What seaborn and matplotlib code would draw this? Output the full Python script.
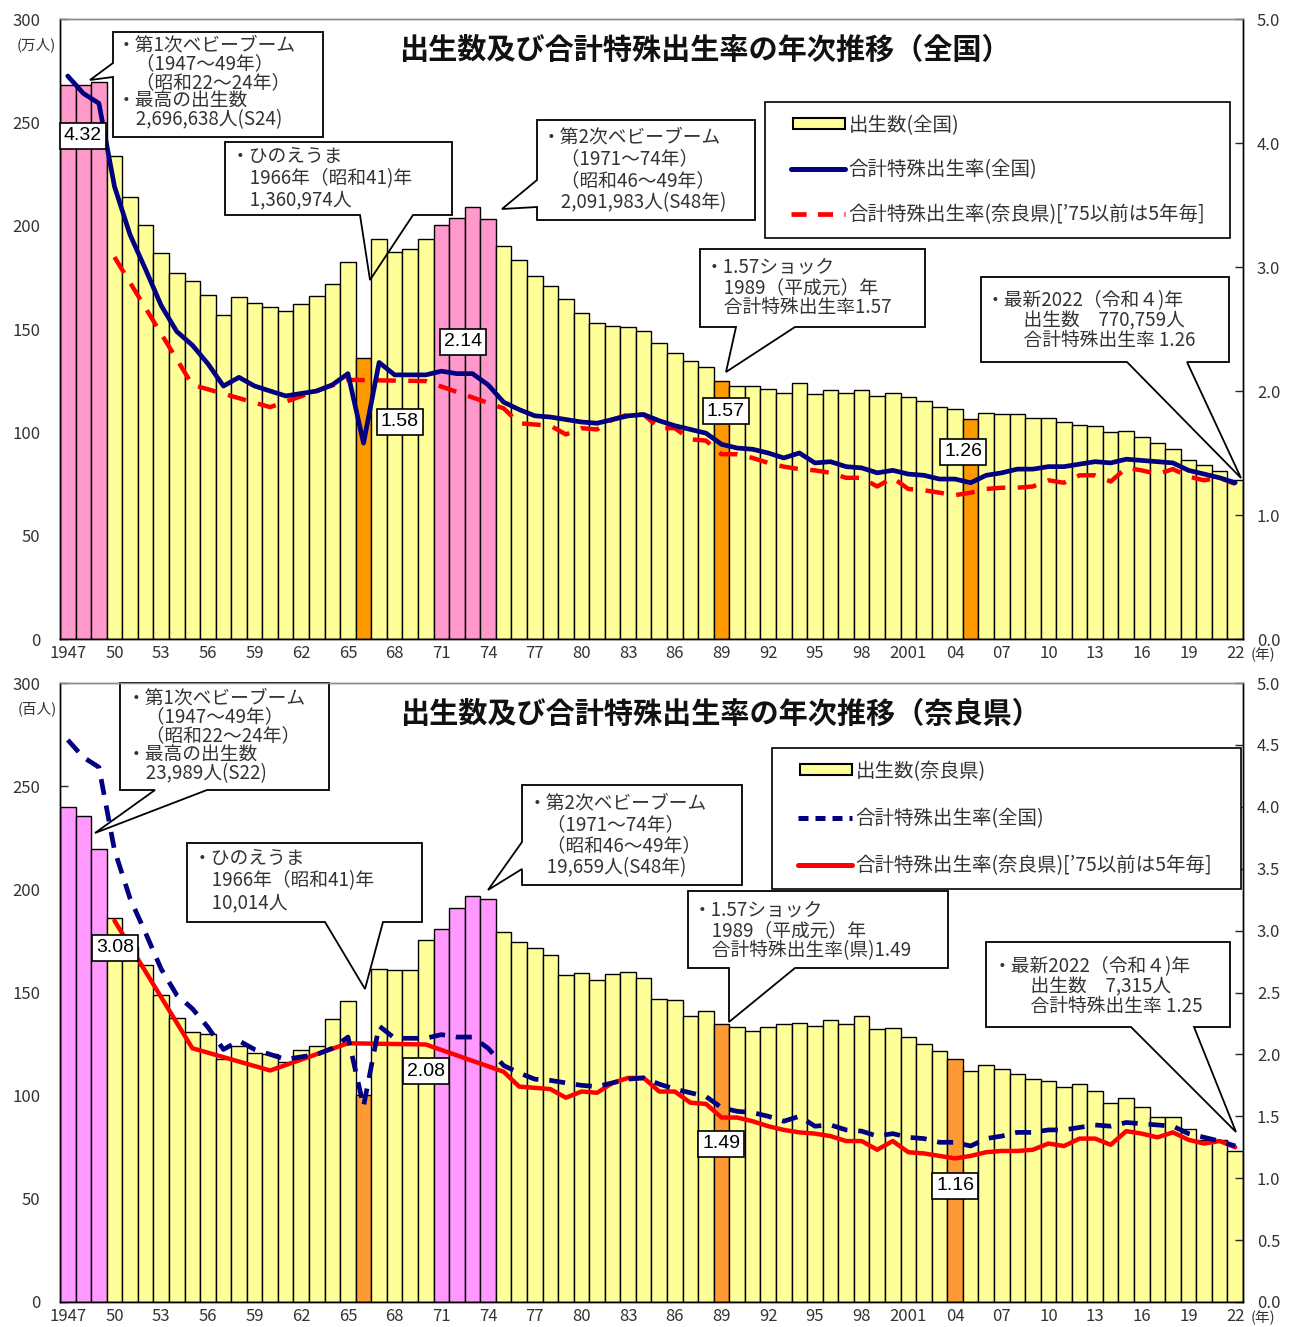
import numpy as np
import pandas as pd
import matplotlib
matplotlib.use("Agg")
import matplotlib.pyplot as plt
import matplotlib.transforms as mtransforms
from matplotlib.patches import Polygon, Rectangle, Patch
from matplotlib.lines import Line2D
from matplotlib.legend_handler import HandlerPatch, HandlerLine2D
import seaborn as sns

# ---------------------------------------------------------------- data
years = list(range(1947, 2023))

# 出生数（全国）, 万人
national_births = [
    267.9, 268.2, 269.66, 233.8, 213.8, 200.5, 186.8, 177.0, 173.1, 166.5,
    156.7, 165.3, 162.6, 160.6, 158.9, 161.9, 166.0, 171.7, 182.4, 136.10,
    193.6, 187.2, 188.9, 193.4, 200.1, 203.9, 209.20, 203.0, 190.1, 183.3,
    175.5, 170.9, 164.3, 157.7, 152.9, 151.5, 150.9, 149.0, 143.2, 138.3,
    134.7, 131.4, 124.7, 122.2, 122.3, 120.9, 118.8, 123.8, 118.7, 120.7,
    119.2, 120.3, 117.8, 119.1, 117.1, 115.4, 112.4, 111.1, 106.3, 109.3,
    109.0, 109.1, 107.0, 107.1, 105.1, 103.7, 103.0, 100.4, 100.6, 97.7,
    94.6, 91.8, 86.5, 84.1, 81.2, 77.08,
]

# 合計特殊出生率（全国）
national_tfr = [
    4.54, 4.40, 4.32, 3.65, 3.26, 2.98, 2.69, 2.48, 2.37, 2.22,
    2.04, 2.11, 2.04, 2.00, 1.96, 1.98, 2.00, 2.05, 2.14, 1.58,
    2.23, 2.13, 2.13, 2.13, 2.16, 2.14, 2.14, 2.05, 1.91, 1.85,
    1.80, 1.79, 1.77, 1.75, 1.74, 1.77, 1.80, 1.81, 1.76, 1.72,
    1.69, 1.66, 1.57, 1.54, 1.53, 1.50, 1.46, 1.50, 1.42, 1.43,
    1.39, 1.38, 1.34, 1.36, 1.33, 1.32, 1.29, 1.29, 1.26, 1.32,
    1.34, 1.37, 1.37, 1.39, 1.39, 1.41, 1.43, 1.42, 1.45, 1.44,
    1.43, 1.42, 1.36, 1.33, 1.30, 1.26,
]

# 出生数（奈良県）, 百人
nara_births = [
    239.89, 235.6, 219.6, 186.0, 172.0, 163.5, 149.0, 137.5, 131.0, 130.0,
    118.0, 124.0, 120.5, 120.0, 116.5, 122.0, 124.0, 137.0, 146.0, 100.14,
    161.5, 161.0, 161.0, 175.5, 181.0, 191.0, 196.59, 195.4, 179.4, 174.5,
    171.5, 168.0, 158.5, 159.5, 156.0, 159.0, 160.0, 157.0, 147.0, 146.5,
    138.7, 141.0, 134.7, 133.5, 131.5, 133.5, 134.6, 135.3, 133.8, 136.7,
    134.8, 138.4, 132.3, 133.0, 128.2, 125.0, 121.7, 117.8, 112.1, 115.0,
    112.9, 110.5, 108.0, 107.2, 104.0, 105.7, 102.5, 96.4, 98.8, 94.7,
    89.8, 89.8, 83.7, 78.5, 78.5, 73.15,
]

# 合計特殊出生率（奈良県）: 1975年以前は5年毎
nara_tfr_years = [1950, 1955, 1960, 1965, 1970] + list(range(1975, 2023))
nara_tfr = [
    3.08, 2.05, 1.87, 2.09, 2.08,
    1.86, 1.74, 1.73, 1.72, 1.65, 1.70, 1.69, 1.77, 1.81, 1.81,
    1.70, 1.70, 1.61, 1.60, 1.49, 1.49, 1.46, 1.42, 1.39, 1.37,
    1.36, 1.34, 1.30, 1.30, 1.23, 1.30, 1.21, 1.20, 1.18, 1.16,
    1.18, 1.21, 1.22, 1.22, 1.23, 1.28, 1.26, 1.32, 1.32, 1.27,
    1.38, 1.36, 1.33, 1.37, 1.31, 1.28, 1.30, 1.25,
]

x_tick_labels = ["1947", "50", "53", "56", "59", "62", "65", "68", "71", "74",
                 "77", "80", "83", "86", "89", "92", "95", "98", "2001", "04",
                 "07", "10", "13", "16", "19", "22"]

boom_years = [1947, 1948, 1949, 1971, 1972, 1973, 1974]
top_orange_years = [1966, 1989, 2005]
bottom_orange_years = [1966, 1989, 2004]

# ---------------------------------------------------------------- style
sns.set_theme(style="white")
FONTS = ["Noto Sans CJK JP", "DejaVu Sans"]
plt.rcParams["font.family"] = FONTS
plt.rcParams["axes.unicode_minus"] = False

YELLOW = "#FFFF99"
PINK = "#FF99CC"
VIOLET = "#FF99FF"
ORANGE_TOP = "#FF9900"
ORANGE_BOT = "#FF9933"
NAVY = "#000080"
RED = "#FF0000"
TXT = "#333333"
BUBBLE_FS = 13.5

W, H = 1297, 1327
fig = plt.figure(figsize=(W / 100, H / 100), dpi=100)
fig.patch.set_facecolor("white")
# layout helper: pixel coordinates measured from the top-left corner
PX = mtransforms.Affine2D().scale(1 / W, -1 / H).translate(0, 1) + fig.transFigure


def make_axes(top_px, bottom_px, left_px=60, right_px=1243):
    return fig.add_axes([left_px / W, 1 - bottom_px / H,
                         (right_px - left_px) / W, (bottom_px - top_px) / H])


def bar_palette(special, special_color, orange_years, orange_color):
    pal = {}
    for y in years:
        if y in special:
            pal[y] = special_color
        elif y in orange_years:
            pal[y] = orange_color
        else:
            pal[y] = YELLOW
    return pal


def draw_panel(ax, births, palette, rate_step):
    df = pd.DataFrame({"year": years, "births": births})
    sns.barplot(data=df, x="year", y="births", hue="year", palette=palette,
                legend=False, width=1.0, edgecolor="black", linewidth=1.0,
                saturation=1, ax=ax)
    ax.set_xlim(-0.5, len(years) - 0.5)
    ax.set_ylim(0, 300)
    ax.set_yticks(np.arange(0, 301, 50))
    ax.set_xticks(np.arange(0, len(years), 3))
    ax.set_xticklabels(x_tick_labels)
    ax.set_xlabel("")
    ax.set_ylabel("")
    ax.tick_params(axis="x", length=0, pad=4, labelsize=12, labelcolor=TXT)
    ax.tick_params(axis="y", direction="in", length=6, width=1, pad=14,
                   labelsize=12, labelcolor=TXT, left=True)

    ax2 = ax.twinx()
    ax2.set_ylim(0, 5)
    ticks = np.arange(0, 5.0001, rate_step)
    ax2.set_yticks(ticks)
    ax2.set_yticklabels([f"{t:.1f}" for t in ticks])
    ax2.tick_params(axis="y", direction="in", length=6, width=1, pad=10,
                    labelsize=12, labelcolor=TXT, right=True)
    for a in (ax, ax2):
        for s in a.spines.values():
            s.set_color("black")
            s.set_linewidth(1.0)
            s.set_visible(True)
        a.spines["top"].set_color("#8c8c8c")
        a.grid(False)
    return ax2


def plot_rates(ax2, dashed_is_nara, dash):
    nat_pos = np.array(years) - years[0]
    nara_pos = np.array(nara_tfr_years) - years[0]
    sns.lineplot(x=nat_pos, y=national_tfr, ax=ax2, color=NAVY, lw=3.4,
                 zorder=6, sort=False)
    nat_line = ax2.lines[-1]
    sns.lineplot(x=nara_pos, y=nara_tfr, ax=ax2, color=RED, lw=3.2,
                 zorder=5, sort=False)
    nara_line = ax2.lines[-1]
    dashed = nara_line if dashed_is_nara else nat_line
    dashed.set_dashes(dash)
    dashed.set_dash_capstyle("butt")
    ax2.set_xlim(-0.5, len(years) - 0.5)
    ax2.set_xlabel("")
    ax2.set_ylabel("")


def bubble(ax, box, side, base, tip, text_x, first_y, last_y, lines,
           fs=BUBBLE_FS):
    """Callout box with a wedge pointer; text is one multi-line block."""
    x0, y0, x1, y1 = box
    b0, b1 = base
    if side == "bottom":
        pts = [(x0, y0), (x1, y0), (x1, y1), (b1, y1), tip, (b0, y1), (x0, y1)]
    else:  # left
        pts = [(x0, y0), (x1, y0), (x1, y1), (x0, y1), (x0, b1), tip, (x0, b0)]
    ax.add_patch(Rectangle((x0, y0), x1 - x0, y1 - y0, transform=PX,
                           fc="white", ec="none", zorder=4, clip_on=False))
    ax.add_patch(Polygon(pts, closed=True, transform=PX, fill=False,
                         ec="black", lw=1.3, zorder=5, clip_on=False,
                         joinstyle="miter"))
    step = (last_y - first_y) / (len(lines) - 1)
    fs_px = fs * 100 / 72
    ax.text(text_x, (first_y + last_y) / 2, "\n".join(lines), transform=PX,
            fontsize=fs, color=TXT, ha="left", va="center",
            multialignment="left", linespacing=step / (1.10 * fs_px),
            zorder=6)


def value_label(ax, x, y, value):
    ax.text(x, y, f"{value:.2f}", transform=PX, ha="center", va="center",
            fontsize=14, family=["Liberation Sans", "DejaVu Sans"],
            color="black", zorder=12,
            bbox=dict(boxstyle="square,pad=0.22", fc="white", ec="black",
                      lw=1.2))


def legend(ax2, labels, handles, box_left, box_top, box_w, spacing):
    hmap = {Patch: HandlerPatch(xpad=0.8), Line2D: HandlerLine2D(xpad=0.7)}
    leg = ax2.legend(handles=handles, labels=labels, loc="upper left",
                     bbox_to_anchor=(box_left / W, 1 - box_top / H, box_w / W, 0),
                     bbox_transform=fig.transFigure, mode="expand",
                     borderaxespad=0, borderpad=0.65, labelspacing=spacing,
                     handlelength=3.45, handleheight=0.5, handletextpad=0.2,
                     fancybox=False, framealpha=1, edgecolor="black",
                     handler_map=hmap,
                     prop={"family": FONTS, "size": 14})
    leg.get_frame().set_linewidth(1.2)
    for t in leg.get_texts():
        t.set_color(TXT)
    leg.set_zorder(20)
    return leg


tfr_nat = dict(zip(years, national_tfr))
tfr_nara = dict(zip(nara_tfr_years, nara_tfr))

# ================================================================ 全国
ax_top = make_axes(19, 639)
ax2_top = draw_panel(ax_top,
                     national_births,
                     bar_palette(boom_years, PINK, top_orange_years, ORANGE_TOP),
                     1.0)
plot_rates(ax2_top, dashed_is_nara=True, dash=(4.2, 2.8))

fig.text(705, 50, "出生数及び合計特殊出生率の年次推移（全国）", transform=PX,
         ha="center", va="center", fontsize=21, fontweight="bold",
         color="#111111")
fig.text(36, 45, "(万人)", transform=PX, ha="center", va="center",
         fontsize=10.5, color=TXT)
fig.text(1263, 655, "(年)", transform=PX, ha="center", va="center",
         fontsize=10.5, color=TXT)

bubble(ax_top, (113, 32, 323, 137), "left", (63, 77), (90, 80), 117, 47, 118, [
    "・第1次ベビーブーム",
    "　（1947～49年）",
    "　（昭和22～24年）",
    "・最高の出生数",
    "　2,696,638人(S24)",
])
bubble(ax_top, (225, 142, 452, 215), "bottom", (360, 413), (370, 280), 231, 157, 200, [
    "・ひのえうま",
    "　1966年（昭和41)年",
    "　1,360,974人",
])
bubble(ax_top, (537, 120, 755, 220), "left", (180, 207), (502, 209), 542, 137, 202, [
    "・第2次ベビーブーム",
    "　（1971～74年）",
    "　（昭和46～49年）",
    "　2,091,983人(S48年)",
])
bubble(ax_top, (700, 249, 925, 327), "bottom", (736, 795), (726, 372), 705, 268, 307, [
    "・1.57ショック",
    "　1989（平成元）年",
    "　合計特殊出生率1.57",
])
bubble(ax_top, (981, 277, 1229, 362), "bottom", (1127, 1187), (1241, 478), 986, 301, 340, [
    "・最新2022（令和４)年",
    "　　出生数　770,759人",
    "　　合計特殊出生率 1.26",
])

value_label(ax2_top, 83, 136, tfr_nat[1949])
value_label(ax2_top, 463, 342, tfr_nat[1972])
value_label(ax2_top, 400, 422, tfr_nat[1966])
value_label(ax2_top, 726, 411, tfr_nat[1989])
value_label(ax2_top, 963, 452, tfr_nat[2005])

legend(ax2_top,
       ["出生数(全国)", "合計特殊出生率(全国)", "合計特殊出生率(奈良県)[’75以前は5年毎]"],
       [Patch(fc=YELLOW, ec="black", lw=1.5),
        Line2D([], [], color=NAVY, lw=3.6),
        Line2D([], [], color=RED, lw=3.4, dashes=(3.2, 2.4), dash_capstyle="butt")],
       765, 102, 465, 1.22)

# ================================================================ 奈良県
ax_bot = make_axes(683, 1302)
ax2_bot = draw_panel(ax_bot,
                     nara_births,
                     bar_palette(boom_years, VIOLET, bottom_orange_years, ORANGE_BOT),
                     0.5)
plot_rates(ax2_bot, dashed_is_nara=False, dash=(3.4, 2.3))

fig.text(720, 714, "出生数及び合計特殊出生率の年次推移（奈良県）", transform=PX,
         ha="center", va="center", fontsize=21, fontweight="bold",
         color="#111111")
fig.text(37, 709, "(百人)", transform=PX, ha="center", va="center",
         fontsize=10.5, color=TXT)
fig.text(1263, 1318, "(年)", transform=PX, ha="center", va="center",
         fontsize=10.5, color=TXT)

bubble(ax_bot, (120, 683, 329, 790), "bottom", (155, 207), (95, 833), 127, 700, 772, [
    "・第1次ベビーブーム",
    "　（1947～49年）",
    "　（昭和22～24年）",
    "・最高の出生数",
    "　23,989人(S22)",
])
bubble(ax_bot, (187, 843, 422, 922), "bottom", (325, 383), (365, 989), 193, 859, 903, [
    "・ひのえうま",
    "　1966年（昭和41)年",
    "　10,014人",
])
bubble(ax_bot, (522, 785, 742, 885), "left", (842, 869), (488, 890), 528, 803, 867, [
    "・第2次ベビーブーム",
    "　（1971～74年）",
    "　（昭和46～49年）",
    "　19,659人(S48年)",
])
bubble(ax_bot, (688, 891, 948, 968), "bottom", (729, 795), (729, 1022), 693, 911, 950, [
    "・1.57ショック",
    "　1989（平成元）年",
    "　合計特殊出生率(県)1.49",
])
bubble(ax_bot, (986, 942, 1230, 1027), "bottom", (1131, 1194), (1236, 1132), 993, 967, 1006, [
    "・最新2022（令和４)年",
    "　　出生数　7,315人",
    "　　合計特殊出生率 1.25",
])

value_label(ax2_bot, 115, 948, tfr_nara[1950])
value_label(ax2_bot, 426, 1071, tfr_nara[1970])
value_label(ax2_bot, 721, 1144, tfr_nara[1989])
value_label(ax2_bot, 955, 1186, tfr_nara[2004])

legend(ax2_bot,
       ["出生数(奈良県)", "合計特殊出生率(全国)", "合計特殊出生率(奈良県)[’75以前は5年毎]"],
       [Patch(fc=YELLOW, ec="black", lw=1.5),
        Line2D([], [], color=NAVY, lw=3.6, dashes=(2.0, 1.4), dash_capstyle="butt"),
        Line2D([], [], color=RED, lw=3.6)],
       772, 748, 469, 1.35)

fig.savefig("out.png", dpi=100, facecolor="white")
